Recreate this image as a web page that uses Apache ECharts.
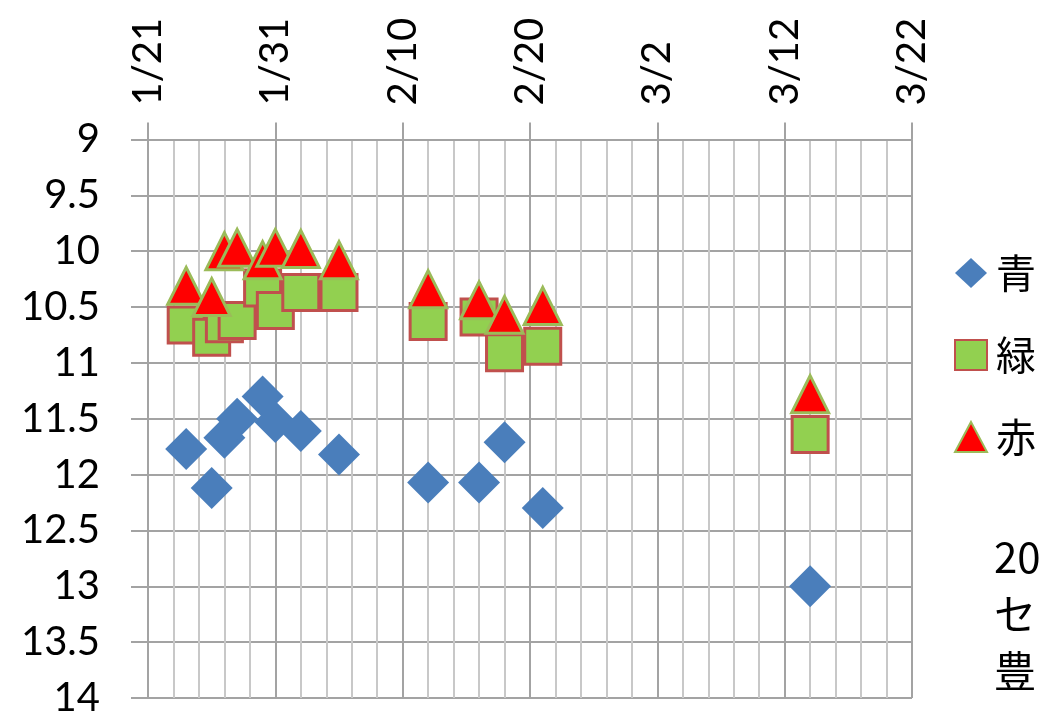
<!DOCTYPE html>
<html>
<head>
<meta charset="utf-8">
<script src="https://cdn.jsdelivr.net/npm/echarts@6/dist/echarts.min.js"></script>
<style>
html,body{margin:0;padding:0;background:#fff}
#chart{width:1039px;height:718px}
</style>
</head>
<body>
<div id="chart"></div>
<script>
// observation dates and readings
var dates = ['1/24','1/26','1/27','1/28','1/30','1/31','2/2','2/5','2/12','2/16','2/18','2/21','3/14'];
var blue  = [11.77,12.12,11.67,11.50,11.30,11.53,11.61,11.82,12.07,12.07,11.71,12.30,13.00];
var green = [10.66,10.77,10.65,10.62,10.33,10.53,10.37,10.37,10.63,10.59,10.91,10.85,11.64];
var red   = [10.31,10.41,10.00,9.97,10.08,9.97,9.98,10.08,10.34,10.44,10.57,10.49,11.28];
var seriesNames = ['青','緑','赤'];
var xTicks = ['1/21','1/31','2/10','2/20','3/2','3/12','3/22'];
var noteLines = ['20','セン','豊'];

// days after 1/21
function dayOf(s){
    var p = s.split('/');
    return (Date.UTC(2015, p[0]-1, +p[1]) - Date.UTC(2015, 0, 21)) / 86400000;
}
function pts(vals){
    return dates.map(function(d, i){ return [dayOf(d), vals[i]]; });
}

var lineMajor = {color:'#a3a3a3', width:2};
var font = 'Lato';

var chart = echarts.init(document.getElementById('chart'));
chart.setOption({
    animation:false,
    grid:{left:148, top:139.5, width:764, height:565.5},
    xAxis:{
        type:'value', position:'top', min:0, max:60, interval:10,
        axisLine:{show:true, onZero:false, lineStyle:lineMajor},
        axisTick:{show:true, length:17, lineStyle:lineMajor},
        minorTick:{show:false, splitNumber:5},
        splitLine:{show:true, lineStyle:lineMajor},
        minorSplitLine:{show:true, lineStyle:{color:'#c8c8c8', width:2}},
        axisLabel:{rotate:-90, fontSize:40, fontFamily:font, color:'#000', margin:34,
            formatter:function(v){ return xTicks[Math.round(v/10)]; }}
    },
    yAxis:{
        type:'value', inverse:true, min:9, max:14, interval:0.5,
        axisLine:{show:true, onZero:false, lineStyle:lineMajor},
        axisTick:{show:true, length:17, lineStyle:lineMajor},
        splitLine:{show:true, lineStyle:lineMajor},
        axisLabel:{fontSize:40, fontFamily:font, color:'#000', margin:48}
    },
    legend:{
        orient:'vertical', left:949, top:248,
        itemWidth:32, itemHeight:30, itemGap:42,
        textStyle:{fontSize:40, fontFamily:'Noto Sans CJK JP', color:'#000', padding:[0,0,0,4]},
        data:seriesNames
    },
    series:[
        {name:seriesNames[0], type:'scatter', symbol:'diamond', symbolSize:42,
         itemStyle:{color:'#4a7ebb', opacity:1}, data:pts(blue)},
        {name:seriesNames[1], type:'scatter', symbol:'rect', symbolSize:36,
         itemStyle:{color:'#92d050', borderColor:'#c0504d', borderWidth:3, opacity:1}, data:pts(green)},
        {name:seriesNames[2], type:'scatter', symbol:'triangle', symbolSize:37,
         itemStyle:{color:'#ff0000', borderColor:'#9bbb59', borderWidth:3, opacity:1}, data:pts(red)}
    ],
    graphic:noteLines.map(function(t, i){
        return {type:'text', x:994, y:557 + i*57,
            style:{text:t, font:'42px "Noto Sans CJK JP"', fill:'#000', verticalAlign:'middle'}};
    })
});
</script>
</body>
</html>
